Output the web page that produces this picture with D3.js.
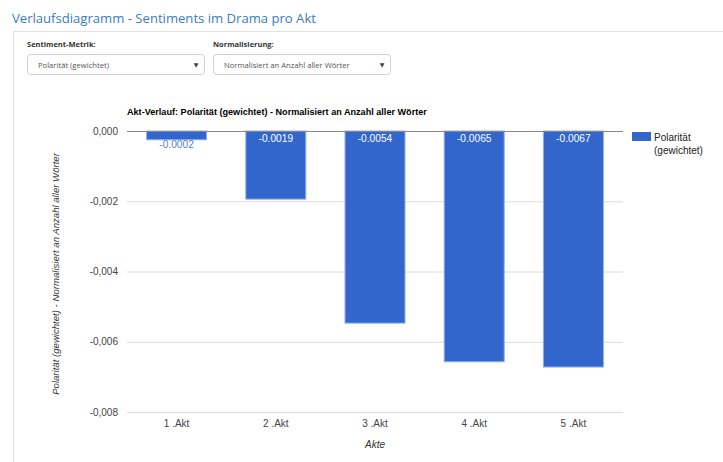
<!DOCTYPE html>
<html><head><meta charset="utf-8">
<script src="https://cdn.jsdelivr.net/npm/d3@7"></script>
<style>
body{margin:0;background:#fff;overflow:hidden}
svg{display:block}
</style></head>
<body>
<svg id="c" width="723" height="462"></svg>
<script>
const categories = ["1 .Akt","2 .Akt","3 .Akt","4 .Akt","5 .Akt"];
const values = [-0.00025, -0.00194, -0.00547, -0.00657, -0.00672];
const valueLabels = ["-0.0002","-0.0019","-0.0054","-0.0065","-0.0067"];
const yTicks = [0, -0.002, -0.004, -0.006, -0.008];
const seriesName = ["Polarität","(gewichtet)"];

const svg = d3.select("#c");
const blue = "#3366cc";

// page header
svg.append("text").attr("x",12).attr("y",23).attr("font-family","Open Sans").attr("font-size",13.1)
  .attr("fill","#3a7cbc").text("Verlaufsdiagramm - Sentiments im Drama pro Akt");
// panel
svg.append("rect").attr("x",13.5).attr("y",31.5).attr("width",740).attr("height",460)
  .attr("fill","#fff").attr("stroke","#e3e3e3");

const controls = [
  {label:"Sentiment-Metrik:", value:"Polarität (gewichtet)", x:27, w:177},
  {label:"Normalisierung:", value:"Normalisiert an Anzahl aller Wörter", x:213, w:177}
];
controls.forEach(c=>{
  svg.append("text").attr("x",c.x).attr("y",47).attr("font-family","Open Sans").attr("font-weight","bold")
    .attr("font-size",7.5).attr("fill","#333").text(c.label);
  svg.append("rect").attr("x",c.x+0.5).attr("y",54.5).attr("width",c.w).attr("height",20).attr("rx",3)
    .attr("fill","#fff").attr("stroke","#d0d0d0");
  svg.append("text").attr("x",c.x+11).attr("y",67.5).attr("font-family","Open Sans")
    .attr("font-size",7.65).attr("fill","#555").text(c.value);
  svg.append("text").attr("x",c.x+c.w-8).attr("y",67).attr("font-family","DejaVu Sans")
    .attr("font-size",6).attr("fill","#444").attr("text-anchor","middle").text("▼");
});

// chart
const x0=127, x1=623, yTop=131, yBot=412;
const x = d3.scaleBand().domain(categories).range([x0,x1]).paddingInner(0.385).paddingOuter(0.1925);
const y = d3.scaleLinear().domain([0,-0.008]).range([yTop,yBot]);
const font = "Liberation Sans, Arial, sans-serif";

svg.append("text").attr("x",x0).attr("y",115).attr("font-family",font).attr("font-weight","bold")
  .attr("font-size",9.1).attr("fill","#000").text("Akt-Verlauf: Polarität (gewichtet) - Normalisiert an Anzahl aller Wörter");

const fmt = v => d3.format(".3f")(v).replace(".",",").replace("−","-");
const gy = svg.append("g").attr("transform",`translate(${x0},0)`)
  .call(d3.axisLeft(y).tickValues(yTicks).tickSize(-(x1-x0)).tickFormat(v=>v===0?"0,000":fmt(v)));
gy.select(".domain").remove();
gy.selectAll(".tick line").attr("stroke",(d)=>d===0?"#fff":"#dcdcdc");
gy.selectAll(".tick text").attr("x",-9).attr("font-family",font).attr("font-size",10).attr("fill","#444");

// bars
svg.selectAll("rect.bar").data(values).join("rect").attr("class","bar")
  .attr("x",(d,i)=>x(categories[i])+0.5).attr("y",yTop)
  .attr("width",x.bandwidth()-1).attr("height",d=>y(d)-yTop)
  .attr("fill",blue).attr("stroke","#8fb0ee").attr("stroke-width",1);

// baseline
svg.append("line").attr("x1",x0).attr("x2",x1).attr("y1",yTop+0.5).attr("y2",yTop+0.5)
  .attr("stroke","#888").attr("stroke-width",1);

svg.selectAll("text.vl").data(values).join("text").attr("class","vl")
  .attr("x",(d,i)=>x(categories[i])+x.bandwidth()/2)
  .attr("y",d=> (y(d)-yTop) < 20 ? y(d)+8.5 : yTop+11)
  .attr("text-anchor","middle").attr("font-family",font).attr("font-size",10.2)
  .attr("fill",d=> (y(d)-yTop) < 20 ? "#5a7ec8" : "#fff")
  .text((d,i)=>valueLabels[i]);

// x axis labels
const gx = svg.append("g").attr("transform",`translate(0,${yBot})`)
  .call(d3.axisBottom(x).tickSize(0).tickPadding(8));
gx.select(".domain").remove();
gx.selectAll(".tick text").attr("font-family",font).attr("font-size",10).attr("fill","#444");

svg.append("text").attr("x",(x0+x1)/2).attr("y",448).attr("text-anchor","middle").attr("font-family",font)
  .attr("font-style","italic").attr("font-size",10).attr("fill","#333").text("Akte");
svg.append("text").attr("transform",`translate(59,274) rotate(-90)`).attr("text-anchor","middle")
  .attr("font-family",font).attr("font-style","italic").attr("font-size",9.6).attr("fill","#333")
  .text("Polarität (gewichtet) - Normalisiert an Anzahl aller Wörter");

// legend
svg.append("rect").attr("x",632).attr("y",132).attr("width",19).attr("height",9).attr("fill",blue);
seriesName.forEach((t,i)=>{
  svg.append("text").attr("x",654).attr("y",141+i*13).attr("font-family",font).attr("font-size",10)
    .attr("fill","#222").text(t);
});
</script>
</body></html>
